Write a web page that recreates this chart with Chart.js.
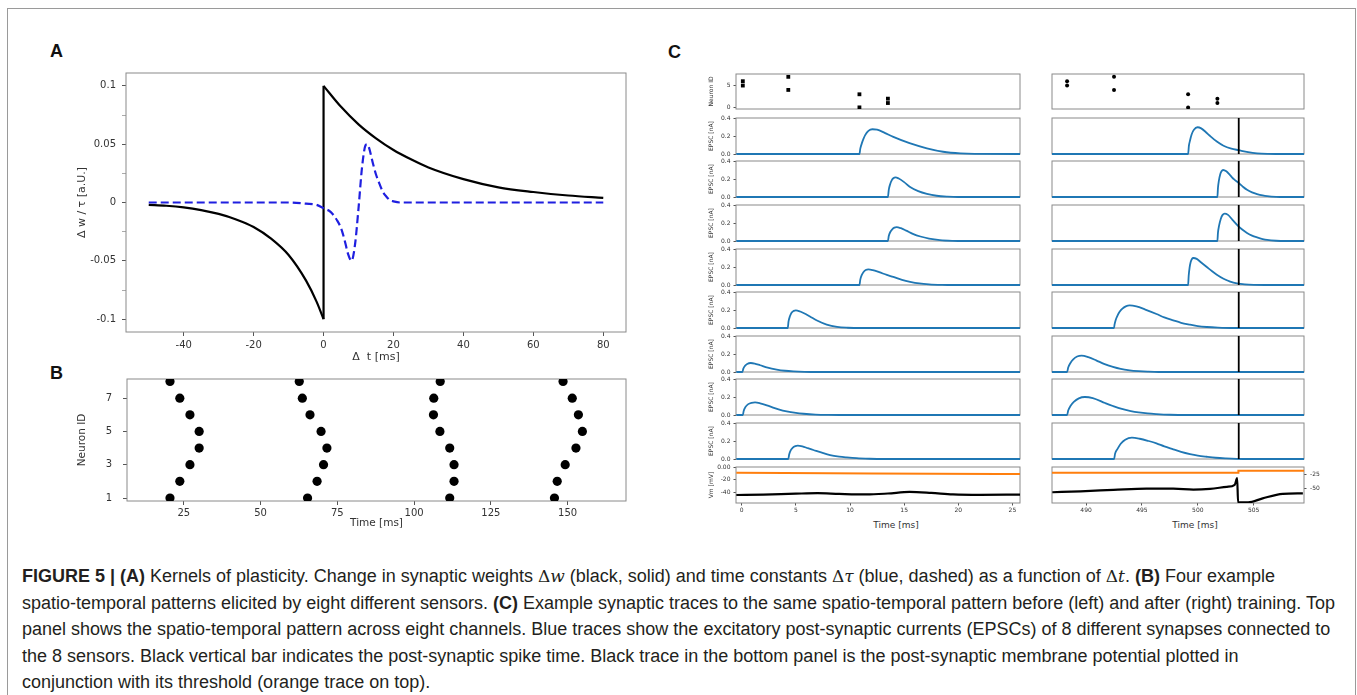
<!DOCTYPE html>
<html>
<head>
<meta charset="utf-8">
<script src="https://cdn.jsdelivr.net/npm/chart.js@4.4.1/dist/chart.umd.min.js"></script>
<style>
  body { margin: 0; background: #fff; }
  #fig { position: relative; width: 1357px; height: 695px; overflow: hidden; background: #fff; }
  #border { position: absolute; left: 7px; top: 8px; width: 1347px; height: 720px; border: 1.5px solid #9a9a9a; }
  canvas { position: absolute; }
  .panel { position: absolute; font: bold 18px 'Liberation Sans', Arial, sans-serif; line-height: 18px; color: #111; }
  .xlab { position: absolute; width: 100px; margin-left: -50px; text-align: center; font: 9px 'DejaVu Sans', sans-serif; line-height: 10px; color: #333; }
  .cap { position: absolute; left: 22px; white-space: nowrap; font-family: 'Liberation Sans', Arial, sans-serif;
         font-size: 18px; line-height: 20px; color: #231f20; }
  .m { font-family: 'DejaVu Serif', 'Liberation Serif', serif; font-size: 17px; }
</style>
</head>
<body>
<div id="fig">
  <div id="border"></div>
  <div class="panel" style="left:50px; top:42px">A</div>
  <div class="panel" style="left:50px; top:364px">B</div>
  <div class="panel" style="left:668px; top:43px">C</div>
  <div class="xlab" style="left:896px; top:520px">Time [ms]</div>
  <div class="xlab" style="left:1195px; top:520px">Time [ms]</div>

  <div class="cap" style="top:566px"><b>FIGURE 5 | (A)</b> Kernels of plasticity. Change in synaptic weights <span class="m">Δ<i>w</i></span> (black, solid) and time constants <span class="m">Δ<i>τ</i></span> (blue, dashed) as a function of <span class="m">Δ<i>t</i></span>. <b>(B)</b> Four example</div>
  <div class="cap" style="top:593px">spatio-temporal patterns elicited by eight different sensors. <b>(C)</b> Example synaptic traces to the same spatio-temporal pattern before (left) and after (right) training. Top</div>
  <div class="cap" style="top:619px">panel shows the spatio-temporal pattern across eight channels. Blue traces show the excitatory post-synaptic currents (EPSCs) of 8 different synapses connected to</div>
  <div class="cap" style="top:646px">the 8 sensors. Black vertical bar indicates the post-synaptic spike time. Black trace in the bottom panel is the post-synaptic membrane potential plotted in</div>
  <div class="cap" style="top:672px">conjunction with its threshold (orange trace on top).</div>
</div>

<script>
// ---- A: plasticity kernels ----
const dtNeg = [-50, -45, -40, -35, -30, -25, -20, -15, -10, -5, -2, 0];
const dwNeg = [-0.002, -0.0028, -0.0042, -0.0065, -0.0098, -0.0145, -0.021, -0.031, -0.045, -0.067, -0.085, -0.1];
const dtPos = [0, 5, 10, 15, 20, 25, 30, 40, 50, 60, 70, 80];
const dwPos = [0.1, 0.082, 0.067, 0.055, 0.045, 0.037, 0.030, 0.020, 0.013, 0.009, 0.006, 0.004];
const dtTau = [-50, -10, -5, -2, 0, 2, 4, 5, 6, 7, 8, 9, 10, 11, 12, 12.5, 13, 14, 15, 16, 17, 18, 19, 20, 22, 80];
const dTau  = [0, 0, -0.001, -0.002, -0.005, -0.008, -0.016, -0.022, -0.032, -0.044, -0.05, -0.036, -0.005, 0.03, 0.049, 0.05, 0.047, 0.035, 0.024, 0.016, 0.009, 0.005, 0.002, 0.001, 0, 0];
const aXTicks = [-40, -20, 0, 20, 40, 60, 80];
const aYTicks = [-0.1, -0.075, -0.05, -0.025, 0, 0.025, 0.05, 0.075, 0.1];

// ---- B: four spatio-temporal patterns (neuron 1..8) ----
const neuronIds = [1, 2, 3, 4, 5, 6, 7, 8];
const pattern1 = [20.5, 23.7, 27.0, 30.0, 30.0, 27.0, 23.7, 20.5];
const pattern2 = [65.3, 68.4, 70.5, 71.6, 69.7, 66.1, 63.6, 62.6];
const pattern3 = [111.6, 113.0, 113.0, 111.6, 108.4, 106.3, 106.4, 108.5];
const pattern4 = [145.7, 146.6, 149.2, 152.7, 154.8, 153.5, 151.5, 148.5];
const bXTicks = [25, 50, 75, 100, 125, 150];
const bYTicks = [1, 3, 5, 7];

// ---- C: input raster, EPSCs and membrane potential, before / after training ----
const rasterIds = [5, 6, 4, 7, 0, 3, 1, 2];
const rasterBefore = [0.1, 0.1, 4.3, 4.3, 10.87, 10.87, 13.5, 13.5];
const rasterAfter = [488.3, 488.3, 492.5, 492.5, 499.13, 499.13, 501.75, 501.75];
const spikeAfter = 503.66;

// one trace per synapse 0..7, [t ms, nA]
const epscBefore = [
  [[-0.5,0],[10.87,0],[10.95,0.06],[11.09,0.118],[11.25,0.17],[11.4,0.21],[11.7,0.257],[12.07,0.275],[12.5,0.27],[13.2,0.235],[14.0,0.19],[15.5,0.12],[17.1,0.063],[18.6,0.025],[20.2,0.006],[21.5,0.001],[25.7,0]],
  [[-0.5,0],[13.5,0],[13.58,0.08],[13.7,0.14],[13.85,0.185],[14.0,0.208],[14.2,0.218],[14.5,0.205],[15.0,0.165],[15.55,0.11],[16.3,0.065],[17.1,0.035],[18.0,0.014],[19.0,0.004],[20,0],[25.7,0]],
  [[-0.5,0],[13.5,0],[13.58,0.055],[13.72,0.1],[13.9,0.13],[14.1,0.148],[14.3,0.154],[14.7,0.142],[15.2,0.115],[15.8,0.08],[16.5,0.05],[17.3,0.027],[18.3,0.01],[19.5,0.002],[20.5,0],[25.7,0]],
  [[-0.5,0],[10.87,0],[10.95,0.06],[11.08,0.11],[11.25,0.145],[11.45,0.166],[11.7,0.173],[12.1,0.165],[12.7,0.142],[13.4,0.112],[14.0,0.09],[14.8,0.058],[15.55,0.036],[16.4,0.018],[17.3,0.008],[18.5,0.002],[19.5,0],[25.7,0]],
  [[-0.5,0],[4.25,0],[4.32,0.07],[4.45,0.13],[4.6,0.17],[4.8,0.19],[5.0,0.196],[5.4,0.183],[5.9,0.155],[6.3,0.128],[7.0,0.08],[7.85,0.037],[8.8,0.012],[9.8,0.003],[11,0],[25.7,0]],
  [[-0.5,0],[0.06,0],[0.14,0.035],[0.3,0.068],[0.5,0.089],[0.83,0.1],[1.2,0.094],[1.7,0.075],[2.4,0.048],[3.23,0.027],[4.0,0.014],[4.77,0.007],[5.8,0.002],[7,0],[25.7,0]],
  [[-0.5,0],[0.1,0],[0.18,0.045],[0.35,0.09],[0.6,0.121],[0.9,0.136],[1.23,0.14],[1.7,0.13],[2.6,0.095],[3.4,0.063],[4.15,0.04],[5.0,0.023],[5.7,0.014],[6.8,0.005],[8,0.001],[9,0],[25.7,0]],
  [[-0.5,0],[4.3,0],[4.38,0.05],[4.52,0.095],[4.72,0.127],[4.95,0.143],[5.17,0.148],[5.6,0.14],[6.1,0.12],[6.62,0.1],[7.4,0.07],[8.16,0.044],[9.0,0.027],[9.7,0.018],[10.6,0.009],[11.8,0.003],[13,0],[25.7,0]]
];
const epscAfter = [
  [[486.95,0],[499.13,0],[499.2,0.09],[499.3,0.15],[499.45,0.22],[499.65,0.27],[499.97,0.297],[500.3,0.285],[500.7,0.245],[501.05,0.205],[501.7,0.138],[502.3,0.092],[503.0,0.06],[503.66,0.042],[504.5,0.02],[505.3,0.007],[506.3,0.001],[507,0],[509.5,0]],
  [[486.95,0],[501.75,0],[501.8,0.1],[501.88,0.18],[502.0,0.25],[502.12,0.285],[502.26,0.30],[502.55,0.285],[502.9,0.24],[503.25,0.195],[503.66,0.155],[504.0,0.118],[504.4,0.08],[504.85,0.052],[505.3,0.033],[505.8,0.018],[506.2,0.01],[507,0.002],[507.8,0],[509.5,0]],
  [[486.95,0],[501.75,0],[501.8,0.09],[501.9,0.17],[502.05,0.245],[502.22,0.29],[502.4,0.304],[502.7,0.29],[503.1,0.235],[503.66,0.16],[504.0,0.125],[504.4,0.09],[504.85,0.06],[505.3,0.04],[505.8,0.022],[506.2,0.012],[507.0,0.003],[507.8,0],[509.5,0]],
  [[486.95,0],[499.13,0],[499.18,0.1],[499.26,0.19],[499.36,0.255],[499.47,0.29],[499.6,0.30],[499.9,0.29],[500.3,0.25],[500.8,0.2],[501.25,0.155],[501.7,0.115],[502.3,0.07],[502.9,0.038],[503.5,0.018],[504.2,0.006],[505,0.001],[506,0],[509.5,0]],
  [[486.95,0],[492.5,0],[492.55,0.04],[492.65,0.09],[492.8,0.135],[493.0,0.18],[493.25,0.215],[493.55,0.24],[493.9,0.251],[494.5,0.24],[495.3,0.205],[496.3,0.156],[497.0,0.118],[497.8,0.085],[498.5,0.058],[499.3,0.037],[500.0,0.021],[500.8,0.011],[501.8,0.004],[503,0],[509.5,0]],
  [[486.95,0],[488.3,0],[488.4,0.05],[488.6,0.1],[488.85,0.14],[489.2,0.172],[489.6,0.182],[490.2,0.165],[490.9,0.13],[491.6,0.09],[492.4,0.056],[493.1,0.034],[493.9,0.019],[494.7,0.01],[495.5,0.004],[496.5,0],[509.5,0]],
  [[486.95,0],[488.3,0],[488.4,0.05],[488.6,0.1],[488.9,0.145],[489.35,0.185],[489.9,0.2],[490.6,0.188],[491.7,0.133],[492.4,0.1],[493.2,0.067],[494.0,0.044],[494.7,0.029],[495.5,0.017],[496.3,0.01],[497.5,0.003],[499,0],[509.5,0]],
  [[486.95,0],[492.5,0],[492.6,0.06],[492.8,0.11],[493.1,0.17],[493.5,0.215],[494.1,0.237],[494.8,0.225],[495.6,0.2],[496.3,0.174],[497.0,0.14],[497.8,0.108],[498.5,0.08],[499.3,0.055],[500.0,0.038],[500.8,0.025],[501.6,0.014],[502.5,0.007],[503.5,0.002],[504.5,0],[509.5,0]]
];

// membrane potential [t ms, mV] and threshold
const vmBefore = [[-0.5,-44.3],[2,-43.6],[5,-42.2],[7,-41.5],[9,-42.6],[11.5,-43.5],[13.5,-42],[15.5,-39.5],[17.5,-41],[19.5,-43.3],[22,-44],[25.7,-43.8]];
const thrBefore = [[-0.5,-9.2],[12,-10.2],[25.7,-11.2]];
const vmAfter = [[486.98,-55.9],[489.5,-54.2],[492.45,-51.8],[495.4,-49.5],[497.8,-49.5],[499.6,-51.2],[501.1,-50],[502.6,-46.5],[503.3,-43],[503.52,-31.5],[503.6,-73.4],[504.5,-73.4],[505.8,-66.4],[507.6,-58.7],[509.4,-57.7]];
const thrAfter = [[486.95,-22.1],[503.6,-22.1],[503.63,-18.6],[509.5,-18.6]];

const cXTicksBefore = [0, 5, 10, 15, 20, 25];
const cXTicksAfter = [490, 495, 500, 505];

// ---------------------------------------------------------------
Chart.defaults.font.family = "'DejaVu Sans', sans-serif";
Chart.defaults.color = '#333';
Chart.defaults.animation = false;
Chart.defaults.responsive = false;
Chart.defaults.plugins.legend.display = false;
Chart.defaults.plugins.tooltip.enabled = false;

// matplotlib-style box around the plotting area
Chart.register({
  id: 'frame',
  beforeDatasetsDraw(chart, args, opts) {
    const a = chart.chartArea, ctx = chart.ctx;
    ctx.save();
    ctx.strokeStyle = opts.color || '#8a8a8a';
    ctx.lineWidth = 1;
    ctx.strokeRect(a.left, a.top, a.right - a.left, a.bottom - a.top);
    ctx.restore();
  }
});

const pts = (xs, ys) => xs.map((x, i) => ({ x, y: ys[i] }));
const fromPairs = arr => arr.map(([x, y]) => ({ x, y }));

function axis(pos, min, max, o = {}) {
  if (!o.ticks) return { type: 'linear', position: pos, min, max, display: false };
  return {
    type: 'linear', position: pos, min, max,
    afterBuildTicks: s => { s.ticks = o.ticks.map(value => ({ value })); },
    border: { display: false },
    grid: { drawOnChartArea: false, tickLength: o.tickLen, tickColor: o.tickColor || '#555', tickWidth: 1 },
    ticks: { padding: o.pad, font: { size: o.size }, color: '#333', autoSkip: false, maxRotation: 0,
             callback: o.fmt || (v => String(v)) },
    title: o.title
      ? { display: true, text: o.title, color: '#333', font: { size: o.titleSize }, padding: o.titlePad || 0 }
      : { display: false }
  };
}

// box = plotting area in page pixels, pad = room around it for ticks and titles
function makeChart(box, pad, scales, datasets) {
  const c = document.createElement('canvas');
  const w = box.r - box.l + pad.l + pad.r;
  const h = box.b - box.t + pad.t + pad.b;
  c.width = w; c.height = h;
  Object.assign(c.style, { left: (box.l - pad.l) + 'px', top: (box.t - pad.t) + 'px', width: w + 'px', height: h + 'px' });
  document.getElementById('fig').appendChild(c);

  const padding = { left: pad.l, right: pad.r, top: pad.t, bottom: pad.b };
  for (const s of Object.values(scales)) {
    if (s.display === false) continue;
    const side = s.position, size = pad[side[0]];
    padding[side] = 0;
    s.afterFit = sc => {
      if (side === 'left' || side === 'right') sc.width = size; else sc.height = size;
      sc.paddingLeft = sc.paddingRight = sc.paddingTop = sc.paddingBottom = 0;
    };
  }
  return new Chart(c, {
    type: 'scatter',
    data: { datasets },
    options: { layout: { padding }, scales, devicePixelRatio: 1 }
  });
}

const curve = (data, color, width, extra = {}) => Object.assign({
  data, showLine: true, borderColor: color, borderWidth: width, pointRadius: 0,
  cubicInterpolationMode: 'monotone'
}, extra);

// ---- A ----
makeChart({ l: 126, t: 73, r: 626, b: 332 }, { l: 50, t: 8, r: 15, b: 36 }, {
  x: axis('bottom', -56.5, 86.5, { ticks: aXTicks, tickLen: 4, pad: 3, size: 10,
    title: 'Δ  t [ms]', titleSize: 11, titlePad: { top: 0, bottom: 4 } }),
  y: axis('left', -0.111, 0.111, { ticks: aYTicks, tickLen: 4, pad: 6, size: 10,
    fmt: v => Math.abs(v * 20 - Math.round(v * 20)) < 1e-9 ? String(v) : '',
    tickColor: ctx => Math.abs(ctx.tick.value * 20 - Math.round(ctx.tick.value * 20)) < 1e-9 ? '#555' : '#aaa',
    title: 'Δ w / τ [a.U.]', titleSize: 11, titlePad: { top: 0, bottom: 0 } })
}, [
  curve(pts(dtTau, dTau), '#1f1fe0', 2.2, { borderDash: [8, 4] }),
  curve(pts(dtNeg, dwNeg), '#000', 2.2),
  curve([{ x: 0, y: dwNeg[dwNeg.length - 1] }, { x: 0, y: dwPos[0] }], '#000', 2.2, { cubicInterpolationMode: 'default' }),
  curve(pts(dtPos, dwPos), '#000', 2.2)
]);

// ---- B ----
const bDots = xs => ({ data: pts(xs, neuronIds), pointRadius: 4.6, pointBackgroundColor: '#000', pointBorderWidth: 0, showLine: false });
makeChart({ l: 127, t: 379, r: 626, b: 501 }, { l: 51, t: 6, r: 15, b: 32 }, {
  x: axis('bottom', 6.5, 169, { ticks: bXTicks, tickLen: 4, pad: 2, size: 10,
    title: 'Time [ms]', titleSize: 10.5, titlePad: { top: 0, bottom: 3 } }),
  y: axis('left', 0.82, 8.15, { ticks: bYTicks, tickLen: 4, pad: 11, size: 10,
    title: 'Neuron ID', titleSize: 10.5, titlePad: { top: 0, bottom: 0 } })
}, [bDots(pattern1), bDots(pattern2), bDots(pattern3), bDots(pattern4)]);

// ---- C ----
const rowTops = [74, 118, 161, 205, 249, 292, 336, 379, 423, 467];
const rowH = 36;
const left = { l: 736, r: 1020 }, right = { l: 1052, r: 1304 };
const small = { tickLen: 2.5, pad: 3, size: 6, titleSize: 6, titlePad: { top: 1.4, bottom: 0 } };
const epscStyle = { clip: { left: 0, top: 0, right: 0, bottom: 2 } };

// input raster
makeChart({ l: left.l, r: left.r, t: rowTops[0], b: rowTops[0] + rowH }, { l: 30, t: 5, r: 4, b: 3 }, {
  x: axis('bottom', -0.53, 25.7),
  y: axis('left', -0.37, 7.65, Object.assign({ ticks: [0, 5], title: 'Neuron ID' }, small))
}, [{ data: pts(rasterBefore, rasterIds), pointStyle: 'rect', pointRadius: 2.7, pointBackgroundColor: '#000', pointBorderWidth: 0 }]);

makeChart({ l: right.l, r: right.r, t: rowTops[0], b: rowTops[0] + rowH }, { l: 4, t: 5, r: 4, b: 3 }, {
  x: axis('bottom', 486.95, 509.5),
  y: axis('left', -0.37, 7.65)
}, [{ data: pts(rasterAfter, rasterIds), pointRadius: 2, pointBackgroundColor: '#000', pointBorderWidth: 0 }]);

// EPSC rows
for (let i = 0; i < 8; i++) {
  const t = rowTops[i + 1];
  makeChart({ l: left.l, r: left.r, t, b: t + rowH }, { l: 30, t: 5, r: 4, b: 3 }, {
    x: axis('bottom', -0.53, 25.7),
    y: axis('left', 0, 0.4, Object.assign({ ticks: [0, 0.2, 0.4], fmt: v => v.toFixed(1), title: 'EPSC [nA]' }, small))
  }, [curve(fromPairs(epscBefore[i]), '#1f77b4', 1.8, epscStyle)]);

  makeChart({ l: right.l, r: right.r, t, b: t + rowH }, { l: 4, t: 5, r: 4, b: 3 }, {
    x: axis('bottom', 486.95, 509.5),
    y: axis('left', 0, 0.4)
  }, [
    curve([{ x: spikeAfter, y: 0 }, { x: spikeAfter, y: 0.4 }], '#000', 1.8, { cubicInterpolationMode: 'default' }),
    curve(fromPairs(epscAfter[i]), '#1f77b4', 1.8, epscStyle)
  ]);
}

// membrane potential rows ("Time [ms]" labels sit in the page markup)
const vmTop = rowTops[9];
makeChart({ l: left.l, r: left.r, t: vmTop, b: vmTop + rowH }, { l: 30, t: 5, r: 4, b: 30 }, {
  x: axis('bottom', -0.53, 25.7, { ticks: cXTicksBefore, tickLen: 2.5, pad: 1, size: 6 }),
  y: axis('left', -57, 0, Object.assign({ ticks: [0, -20, -40], fmt: v => v === 0 ? '0.00' : String(v), title: 'Vm [mV]' }, small))
}, [
  curve(fromPairs(thrBefore), '#ff7f0e', 2),
  curve(fromPairs(vmBefore), '#000', 2.2)
]);

makeChart({ l: right.l, r: right.r, t: vmTop, b: vmTop + rowH }, { l: 4, t: 5, r: 24, b: 30 }, {
  x: axis('bottom', 486.95, 509.5, { ticks: cXTicksAfter, tickLen: 2.5, pad: 1, size: 6 }),
  y: axis('right', -74.4, -12.3, { ticks: [-25, -50], tickLen: 2.5, pad: 3.5, size: 6 })
}, [
  curve(fromPairs(thrAfter), '#ff7f0e', 2, { cubicInterpolationMode: 'default' }),
  curve(fromPairs(vmAfter), '#000', 2.2)
]);
</script>
</body>
</html>
